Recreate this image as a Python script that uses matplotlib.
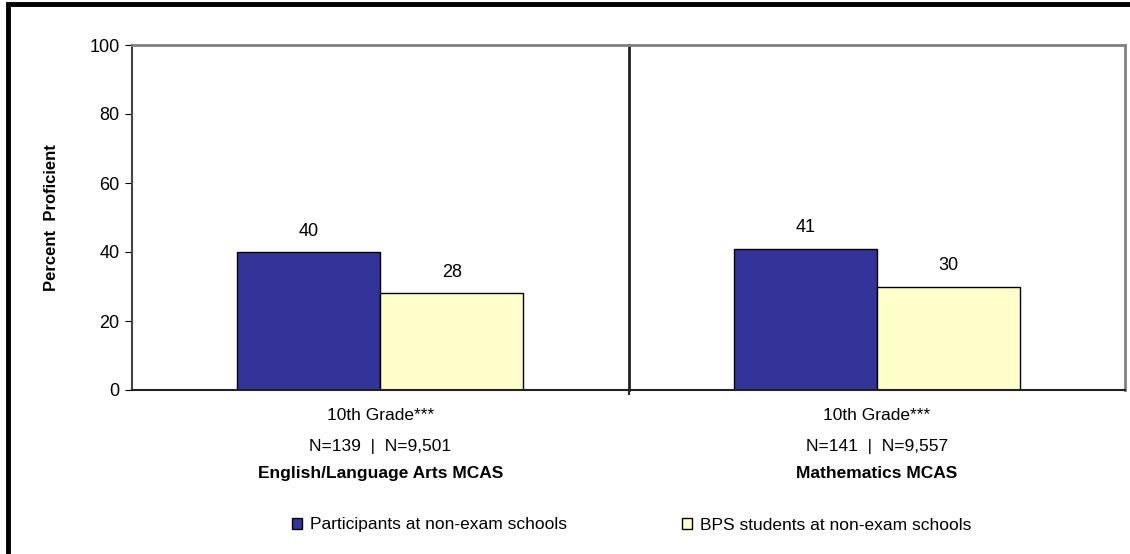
import numpy as np
from matplotlib import pyplot as plt
from matplotlib.patches import Rectangle, Patch

plt.rcParams['font.family'] = ['Liberation Sans', 'DejaVu Sans']

subjects = ['English/Language Arts MCAS', 'Mathematics MCAS']
grades = ['10th Grade***', '10th Grade***']
counts = ['N=139  |  N=9,501', 'N=141  |  N=9,557']
series = ['Participants at non-exam schools', 'BPS students at non-exam schools']
participants = [40, 41]
bps = [28, 30]
colors = ['#333399', '#FFFFCC']

fig = plt.figure(figsize=(11.3, 5.54), dpi=100)
ax = fig.add_axes([132/1130, 1-390/554, (1125-132)/1130, (390-45)/554])

x = np.arange(len(subjects))
w = 0.288
b1 = ax.bar(x - w/2, participants, w, color=colors[0], edgecolor='black', linewidth=1)
b2 = ax.bar(x + w/2, bps, w, color=colors[1], edgecolor='black', linewidth=1)
for bars, vals in [(b1, participants), (b2, bps)]:
    for r, v in zip(bars, vals):
        ax.text(r.get_x() + r.get_width()/2, v + 3.5, str(v), ha='center', va='bottom', fontsize=13)

ax.set_xlim(-0.5, len(subjects) - 0.5)
ax.set_ylim(0, 100)
ax.set_yticks(range(0, 101, 20))
ax.tick_params(axis='y', labelsize=13, length=5, direction='out', pad=4)
ax.set_xticks([])
for i in range(1, len(subjects)):
    ax.plot([i - 0.5, i - 0.5], [0, 100], color='#222222', lw=2, clip_on=False)
    ax.plot([i - 0.5, i - 0.5], [0, -1.2], color='#222222', lw=1.5, clip_on=False)
ax.spines['top'].set_color('#808080')
ax.spines['right'].set_color('#808080')
ax.spines['top'].set_linewidth(2)
ax.spines['right'].set_linewidth(2)
ax.spines['left'].set_color('#444444')
ax.spines['bottom'].set_color('#222222')
ax.spines['left'].set_linewidth(1.5)
ax.spines['bottom'].set_linewidth(1.5)

for i in x:
    ax.text(i, -7.5, grades[i], ha='center', va='center', fontsize=12.5)
    ax.text(i, -16.5, counts[i], ha='center', va='center', fontsize=12.5)
    ax.text(i, -24.3, subjects[i], ha='center', va='center', fontsize=12.5, fontweight='bold')

ax.set_ylabel('Percent  Proficient', fontsize=12, fontweight='bold', labelpad=22)

handles = [Patch(facecolor=c, edgecolor='black', label=s) for c, s in zip(colors, series)]
fig.legend(handles=handles, loc='center left', bbox_to_anchor=(292/1130, 1-525/554), ncol=2,
           frameon=False, fontsize=12.5, handlelength=0.6, handleheight=0.6,
           handletextpad=0.45, columnspacing=6.6, borderpad=0, borderaxespad=0)

# outer frame
fig.patches.append(Rectangle((8/1130, -0.05), 1.1, 1.05 - 4/554, transform=fig.transFigure,
                             fill=False, edgecolor='black', linewidth=3.5))

fig.savefig('out.png', dpi=100)
